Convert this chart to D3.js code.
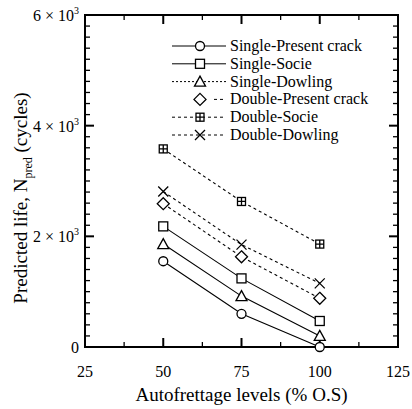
<!DOCTYPE html>
<html>
<head>
<meta charset="utf-8">
<script src="https://cdn.jsdelivr.net/npm/d3@7"></script>
<style>
  body { margin: 0; background: #fff; }
  text { font-family: "Liberation Serif", "Times New Roman", serif; fill: #000; }
</style>
</head>
<body>
<div id="content"></div>
<script>
const width = 412;
const height = 409;

// data
const levels = [50, 75, 100];
const names = ["Single-Present crack", "Single-Socie", "Single-Dowling",
               "Double-Present crack", "Double-Socie", "Double-Dowling"];
const singlePresent = [1550, 600, 0];
const singleSocie = [2180, 1240, 470];
const singleDowling = [1860, 920, 200];
const doublePresent = [2590, 1630, 880];
const doubleSocie = [3580, 2630, 1860];
const doubleDowling = [2810, 1850, 1150];

const xTicks = [25, 50, 75, 100, 125];
const yTicks = [0, 2000, 4000, 6000];
const yTickLabels = ["0", "2 × 10", "4 × 10", "6 × 10"];

const series = [singlePresent, singleSocie, singleDowling, doublePresent, doubleSocie, doubleDowling];
const symbols = ["circle", "square", "triangle", "diamond", "squarecross", "cross"];
const dashes = [null, null, null, "3,3", "3,3", "3,3"];

const margin = {top: 15, right: 14, bottom: 62, left: 85};

var svg = d3.select("#content").append("svg")
    .attr("width", width)
    .attr("height", height);

var x = d3.scaleLinear().domain([25, 125]).range([margin.left, width - margin.right]);
var y = d3.scaleLinear().domain([0, 6000]).range([height - margin.bottom, margin.top]);

// ticks on all four sides, pointing in
function drawTicks() {
    var minorY = d3.range(0, 6001, 200);
    var minorX = d3.range(25, 125.1, 12.5);
    var g = svg.append("g").attr("stroke", "#000");
    minorY.forEach(v => {
        var len = (v % 2000 == 0) ? 9 : 5;
        g.append("line").attr("x1", x(25)).attr("x2", x(25) + len)
            .attr("y1", y(v)).attr("y2", y(v)).attr("stroke-width", v % 2000 == 0 ? 2 : 1.3);
        g.append("line").attr("x1", x(125)).attr("x2", x(125) - len)
            .attr("y1", y(v)).attr("y2", y(v)).attr("stroke-width", v % 2000 == 0 ? 2 : 1.3);
    });
    minorX.forEach(v => {
        var len = (v % 25 == 0) ? 9 : 5;
        g.append("line").attr("x1", x(v)).attr("x2", x(v))
            .attr("y1", y(0)).attr("y2", y(0) - len).attr("stroke-width", v % 25 == 0 ? 2 : 1.3);
        g.append("line").attr("x1", x(v)).attr("x2", x(v))
            .attr("y1", y(6000)).attr("y2", y(6000) + len).attr("stroke-width", v % 25 == 0 ? 2 : 1.3);
    });
}

function drawFrame() {
    svg.append("rect")
        .attr("x", x(25)).attr("y", y(6000))
        .attr("width", x(125) - x(25)).attr("height", y(0) - y(6000))
        .attr("fill", "none").attr("stroke", "#000").attr("stroke-width", 2);
}

function drawLabels() {
    xTicks.forEach(v => {
        svg.append("text").text(v)
            .attr("x", x(v)).attr("y", y(0) + 30)
            .attr("text-anchor", "middle").attr("font-size", 16);
    });
    yTicks.forEach((v, i) => {
        var t = svg.append("text")
            .attr("x", x(25) - 6).attr("y", y(v) + 6)
            .attr("text-anchor", "end").attr("font-size", 16);
        if (v == 0) { t.text("0"); return; }
        t.append("tspan").text(yTickLabels[i]);
        t.append("tspan").text("3").attr("font-size", 10).attr("dy", -7);
    });
    svg.append("text").text("Autofrettage levels (% O.S)")
        .attr("x", (x(25) + x(125)) / 2).attr("y", 401)
        .attr("text-anchor", "middle").attr("font-size", 19);

    var t = svg.append("text")
        .attr("transform", `translate(27, 198) rotate(-90)`)
        .attr("text-anchor", "middle").attr("font-size", 19);
    t.append("tspan").text("Predicted  life, N");
    t.append("tspan").text("pred").attr("font-size", 12).attr("dy", 5);
    t.append("tspan").text(" (cycles)").attr("font-size", 19).attr("dy", -5);
}

function drawSymbol(g, type, cx, cy) {
    var s = g.append("g").attr("transform", `translate(${cx},${cy})`)
        .attr("fill", "#fff").attr("stroke", "#000").attr("stroke-width", 1.3);
    if (type == "circle") s.append("circle").attr("r", 4.5);
    if (type == "square") s.append("rect").attr("x", -4.5).attr("y", -4.5).attr("width", 9).attr("height", 9);
    if (type == "triangle") s.append("path").attr("d", "M0,-5.5L5.5,4.5L-5.5,4.5Z");
    if (type == "diamond") s.append("path").attr("d", "M0,-6L6,0L0,6L-6,0Z");
    if (type == "squarecross") {
        s.append("rect").attr("x", -4).attr("y", -4).attr("width", 8).attr("height", 8);
        s.append("path").attr("d", "M0,-4V4M-4,0H4");
    }
    if (type == "cross") s.append("path").attr("d", "M-5,-5L5,5M-5,5L5,-5");
}

function drawSeries() {
    var line = d3.line().x((d, i) => x(levels[i])).y(d => y(d));
    series.forEach((vals, k) => {
        svg.append("path").datum(vals)
            .attr("d", line)
            .attr("fill", "none").attr("stroke", "#000").attr("stroke-width", 1.1)
            .attr("stroke-dasharray", dashes[k]);
    });
    series.forEach((vals, k) => {
        vals.forEach((v, i) => drawSymbol(svg, symbols[k], x(levels[i]), y(v)));
    });
}

function drawLegend() {
    var lx = 227, ly = 46, dy = 17.8;
    names.forEach((n, k) => {
        var yy = ly + k * dy;
        var l = svg.append("line").attr("x1", k == 3 ? 214 : 172).attr("x2", 226)
            .attr("y1", yy).attr("y2", yy)
            .attr("stroke", "#000").attr("stroke-width", 1)
            .attr("stroke-dasharray", dashes[k]);
        if (k == 2) l.attr("stroke-dasharray", "2,2");
        drawSymbol(svg, symbols[k], 200, yy);
        svg.append("text").text(n).attr("x", lx + 3).attr("y", yy + 5)
            .attr("font-size", 16);
    });
}

drawFrame();
drawTicks();
drawSeries();
drawLegend();
drawLabels();
</script>
</body>
</html>
